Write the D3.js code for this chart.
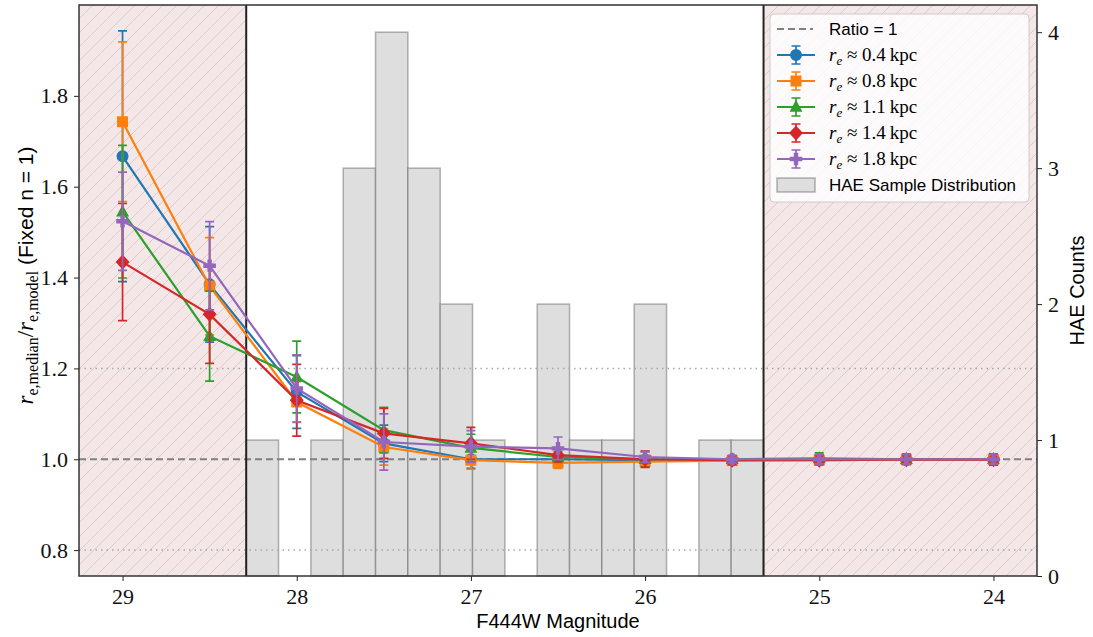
<!DOCTYPE html>
<html>
<head>
<meta charset="utf-8">
<script src="https://cdn.jsdelivr.net/npm/d3@7"></script>
<style>
  body { margin: 0; background: #fff; }
  .axis text { font-family: "Liberation Serif", serif; font-size: 22px; fill: #111; }
  .axis path, .axis line { stroke: #222; }
</style>
</head>
<body>
<div class="chart"></div>
<script>
// DATA ------------------------------------

const mags = [29, 28.5, 28, 27.5, 27, 26.5, 26, 25.5, 25, 24.5, 24];

const r04 = [1.667, 1.385, 1.148, 1.035, 1.000, 1.000, 0.998, 0.998, 1.000, 1.000, 1.000];
const r04Err = [0.276, 0.127, 0.080, 0.040, 0.020, 0.012, 0.010, 0.008, 0.010, 0.010, 0.010];
const r08 = [1.743, 1.381, 1.126, 1.027, 0.998, 0.992, 0.995, 0.997, 0.998, 0.999, 0.999];
const r08Err = [0.176, 0.107, 0.045, 0.040, 0.020, 0.012, 0.010, 0.008, 0.010, 0.010, 0.010];
const r11 = [1.545, 1.271, 1.181, 1.064, 1.025, 1.005, 1.000, 1.000, 1.002, 1.000, 1.000];
const r11Err = [0.146, 0.099, 0.079, 0.050, 0.030, 0.012, 0.017, 0.008, 0.012, 0.012, 0.012];
const r14 = [1.434, 1.319, 1.130, 1.057, 1.035, 1.009, 1.000, 0.998, 0.998, 0.999, 0.999];
const r14Err = [0.129, 0.108, 0.079, 0.055, 0.035, 0.015, 0.018, 0.010, 0.010, 0.010, 0.012];
const r18 = [1.524, 1.426, 1.156, 1.038, 1.028, 1.024, 1.005, 1.000, 1.000, 1.000, 1.000];
const r18Err = [0.108, 0.097, 0.074, 0.062, 0.035, 0.025, 0.012, 0.008, 0.010, 0.010, 0.010];

const seriesNames = ["0.4", "0.8", "1.1", "1.4", "1.8"];
const colors = ["#1f77b4", "#ff7f0e", "#2ca02c", "#d62728", "#9467bd"];
const markers = ["circle", "square", "triangle", "diamond", "plus"];

// HAE magnitude histogram: 16 bins between faintest and brightest source
const histRange = [28.29, 25.32];
const histCounts = [1, 0, 1, 3, 4, 3, 2, 1, 0, 2, 1, 1, 2, 0, 1, 1];

const xTicks = [29, 28, 27, 26, 25, 24];
const yTicks = [0.8, 1.0, 1.2, 1.4, 1.6, 1.8];
const y2Ticks = [0, 1, 2, 3, 4];
const guideLines = [1.2, 0.8];

// CHART INIT ------------------------------

const W = 1093, H = 637;
const margin = ({top: 5, right: 56, bottom: 61, left: 79});
const width = W - margin.left - margin.right;
const height = H - margin.top - margin.bottom;

const svg = d3.select(".chart").append("svg")
    .attr("width", W)
    .attr("height", H);

const defs = svg.append("defs");
const hatch = defs.append("pattern")
    .attr("id", "hatch")
    .attr("patternUnits", "userSpaceOnUse")
    .attr("width", 14).attr("height", 14);
hatch.append("rect").attr("width", 14).attr("height", 14).attr("fill", "#f4e7e8");
hatch.append("path")
    .attr("d", "M0,14 L14,0 M-3,3 L3,-3 M11,17 L17,11")
    .attr("stroke", "#e3c6c9").attr("stroke-width", 1);

const g = svg.append("g")
    .attr("transform", "translate(" + margin.left + "," + margin.top + ")");

const xScale = d3.scaleLinear().domain([29.25, 23.75]).range([0, width]);
const yScale = d3.scaleLinear().domain([0.743, 2.0]).range([height, 0]);
const y2Scale = d3.scaleLinear().domain([0, 4.2]).range([height, 0]);

// shaded (no data) regions
g.append("rect")
    .attr("x", 0).attr("y", 0)
    .attr("width", xScale(histRange[0])).attr("height", height)
    .attr("fill", "url(#hatch)");
g.append("rect")
    .attr("x", xScale(histRange[1])).attr("y", 0)
    .attr("width", width - xScale(histRange[1])).attr("height", height)
    .attr("fill", "url(#hatch)");

// histogram
const binW = (histRange[0] - histRange[1]) / histCounts.length;
const bins = histCounts.map((c, i) => ({x0: histRange[0] - i * binW, x1: histRange[0] - (i + 1) * binW, c: c}));

g.selectAll(".bar")
    .data(bins.filter(d => d.c > 0))
    .enter()
    .append("rect")
    .attr("class", "bar")
    .attr("x", d => xScale(d.x0))
    .attr("y", d => y2Scale(d.c))
    .attr("width", d => xScale(d.x1) - xScale(d.x0))
    .attr("height", d => height - y2Scale(d.c))
    .attr("fill", "#dedede")
    .attr("stroke", "rgba(90,90,90,0.45)")
    .attr("stroke-width", 1.5);

// reference lines
g.selectAll(".guide")
    .data(guideLines)
    .enter()
    .append("line")
    .attr("x1", 0).attr("x2", width)
    .attr("y1", d => yScale(d)).attr("y2", d => yScale(d))
    .attr("stroke", "#a8a8a8")
    .attr("stroke-width", 1.5)
    .attr("stroke-dasharray", "1.5,4");

g.append("line")
    .attr("x1", 0).attr("x2", width)
    .attr("y1", yScale(1)).attr("y2", yScale(1))
    .attr("stroke", "#808080")
    .attr("stroke-width", 2)
    .attr("stroke-dasharray", "7,4");

// completeness limits
histRange.forEach(m => {
  g.append("line")
      .attr("x1", xScale(m)).attr("x2", xScale(m))
      .attr("y1", 0).attr("y2", height)
      .attr("stroke", "#222")
      .attr("stroke-width", 2);
});

// markers
function markerPath(type) {
  if (type === "circle") return d3.symbol(d3.symbolCircle, 113)();
  if (type === "square") return "M-5.5,-5.5H5.5V5.5H-5.5Z";
  if (type === "triangle") return "M0,-7L6.5,4.8H-6.5Z";
  if (type === "diamond") return "M0,-7.5L7,0L0,7.5L-7,0Z";
  return "M-2.2,-6.3H2.2V-2.2H6.3V2.2H2.2V6.3H-2.2V2.2H-6.3V-2.2H-2.2Z";
}

// series
const allVals = [r04, r08, r11, r14, r18];
const allErrs = [r04Err, r08Err, r11Err, r14Err, r18Err];

allVals.forEach((vals, k) => {
  const pts = mags.map((m, i) => ({m: m, v: vals[i], e: allErrs[k][i]}));
  const sg = g.append("g").attr("class", "series");

  sg.selectAll(".err")
      .data(pts)
      .enter()
      .append("path")
      .attr("d", d => {
        const x = xScale(d.m), y0 = yScale(d.v - d.e), y1 = yScale(d.v + d.e);
        return `M${x},${y0}V${y1}M${x - 4.5},${y0}H${x + 4.5}M${x - 4.5},${y1}H${x + 4.5}`;
      })
      .attr("stroke", colors[k])
      .attr("stroke-width", 1.7)
      .attr("fill", "none");

  sg.append("path")
      .datum(pts)
      .attr("d", d3.line().x(d => xScale(d.m)).y(d => yScale(d.v)))
      .attr("stroke", colors[k])
      .attr("stroke-width", 2.2)
      .attr("fill", "none");

  sg.selectAll(".mk")
      .data(pts)
      .enter()
      .append("path")
      .attr("transform", d => `translate(${xScale(d.m)},${yScale(d.v)})`)
      .attr("d", markerPath(markers[k]))
      .attr("fill", colors[k]);
});

// axes
const xAxis = d3.axisBottom(xScale).tickValues(xTicks).tickFormat(d3.format("d")).tickSize(5).tickPadding(7);
const yAxis = d3.axisLeft(yScale).tickValues(yTicks).tickFormat(d3.format(".1f")).tickSize(5).tickPadding(6);
const y2Axis = d3.axisRight(y2Scale).tickValues(y2Ticks).tickFormat(d3.format("d")).tickSize(5).tickPadding(6);

g.append("g").attr("class", "axis x-axis")
    .attr("transform", `translate(0, ${height})`)
    .call(xAxis);
g.append("g").attr("class", "axis y-axis").call(yAxis);
g.append("g").attr("class", "axis y2-axis")
    .attr("transform", `translate(${width}, 0)`)
    .call(y2Axis);
g.selectAll(".axis .domain").remove();

// frame
g.append("rect")
    .attr("width", width).attr("height", height)
    .attr("fill", "none")
    .attr("stroke", "#333")
    .attr("stroke-width", 1.5);

// axis titles
svg.append("text")
    .attr("x", margin.left + width / 2)
    .attr("y", 628)
    .attr("text-anchor", "middle")
    .style("font-family", "Liberation Sans, sans-serif")
    .style("font-size", "20px")
    .text("F444W Magnitude");

svg.append("text")
    .attr("transform", `translate(1084, ${margin.top + height / 2}) rotate(-90)`)
    .attr("text-anchor", "middle")
    .style("font-family", "Liberation Sans, sans-serif")
    .style("font-size", "20px")
    .text("HAE Counts");

const yLabel = svg.append("text")
    .attr("transform", `translate(33, ${margin.top + height / 2 - 15}) rotate(-90)`)
    .attr("text-anchor", "middle")
    .style("font-family", "Liberation Serif, serif")
    .style("font-size", "23px");
yLabel.append("tspan").attr("font-style", "italic").text("r");
yLabel.append("tspan").attr("dy", 5).attr("font-size", "16px").text("e,median");
yLabel.append("tspan").attr("dy", -5).text("/");
yLabel.append("tspan").attr("font-style", "italic").text("r");
yLabel.append("tspan").attr("dy", 5).attr("font-size", "16px").text("e,model");
yLabel.append("tspan").attr("dy", -5)
    .style("font-family", "Liberation Sans, sans-serif")
    .attr("font-size", "21px")
    .text(" (Fixed n = 1)");

// LEGEND ----------------------------------

const lg = svg.append("g").attr("transform", "translate(770,14)");
lg.append("rect")
    .attr("width", 259).attr("height", 188).attr("rx", 4)
    .attr("fill", "rgba(255,255,255,0.8)")
    .attr("stroke", "#ccc");

const rowY = i => 15 + i * 26;
const hx0 = 7, hx1 = 45, tx = 59;

lg.append("line")
    .attr("x1", hx0).attr("x2", hx1 - 2)
    .attr("y1", rowY(0)).attr("y2", rowY(0))
    .attr("stroke", "#808080").attr("stroke-width", 2)
    .attr("stroke-dasharray", "7,4");
lg.append("text")
    .attr("x", tx).attr("y", rowY(0) + 6)
    .style("font-family", "Liberation Sans, sans-serif")
    .style("font-size", "17px")
    .text("Ratio = 1");

seriesNames.forEach((s, k) => {
  const y = rowY(k + 1), xm = (hx0 + hx1) / 2;
  lg.append("path")
      .attr("d", `M${xm},${y - 9}V${y + 9}M${xm - 4.5},${y - 9}H${xm + 4.5}M${xm - 4.5},${y + 9}H${xm + 4.5}`)
      .attr("stroke", colors[k]).attr("stroke-width", 1.7).attr("fill", "none");
  lg.append("line")
      .attr("x1", hx0).attr("x2", hx1)
      .attr("y1", y).attr("y2", y)
      .attr("stroke", colors[k]).attr("stroke-width", 2.2);
  lg.append("path")
      .attr("transform", `translate(${xm},${y})`)
      .attr("d", markerPath(markers[k]))
      .attr("fill", colors[k]);
  const t = lg.append("text")
      .attr("x", tx).attr("y", y + 6)
      .style("font-family", "Liberation Serif, serif")
      .style("font-size", "19px");
  t.append("tspan").attr("font-style", "italic").text("r");
  t.append("tspan").attr("dy", 4).attr("font-size", "13px").attr("font-style", "italic").text("e");
  t.append("tspan").attr("dy", -4).text(" \u2248 " + s + "\u2009kpc");
});

lg.append("rect")
    .attr("x", hx0).attr("y", rowY(6) - 7)
    .attr("width", hx1 - hx0).attr("height", 14)
    .attr("fill", "#dedede")
    .attr("stroke", "rgba(90,90,90,0.45)")
    .attr("stroke-width", 1.5);
lg.append("text")
    .attr("x", tx).attr("y", rowY(6) + 6)
    .style("font-family", "Liberation Sans, sans-serif")
    .style("font-size", "17px")
    .text("HAE Sample Distribution");
</script>
</body>
</html>
